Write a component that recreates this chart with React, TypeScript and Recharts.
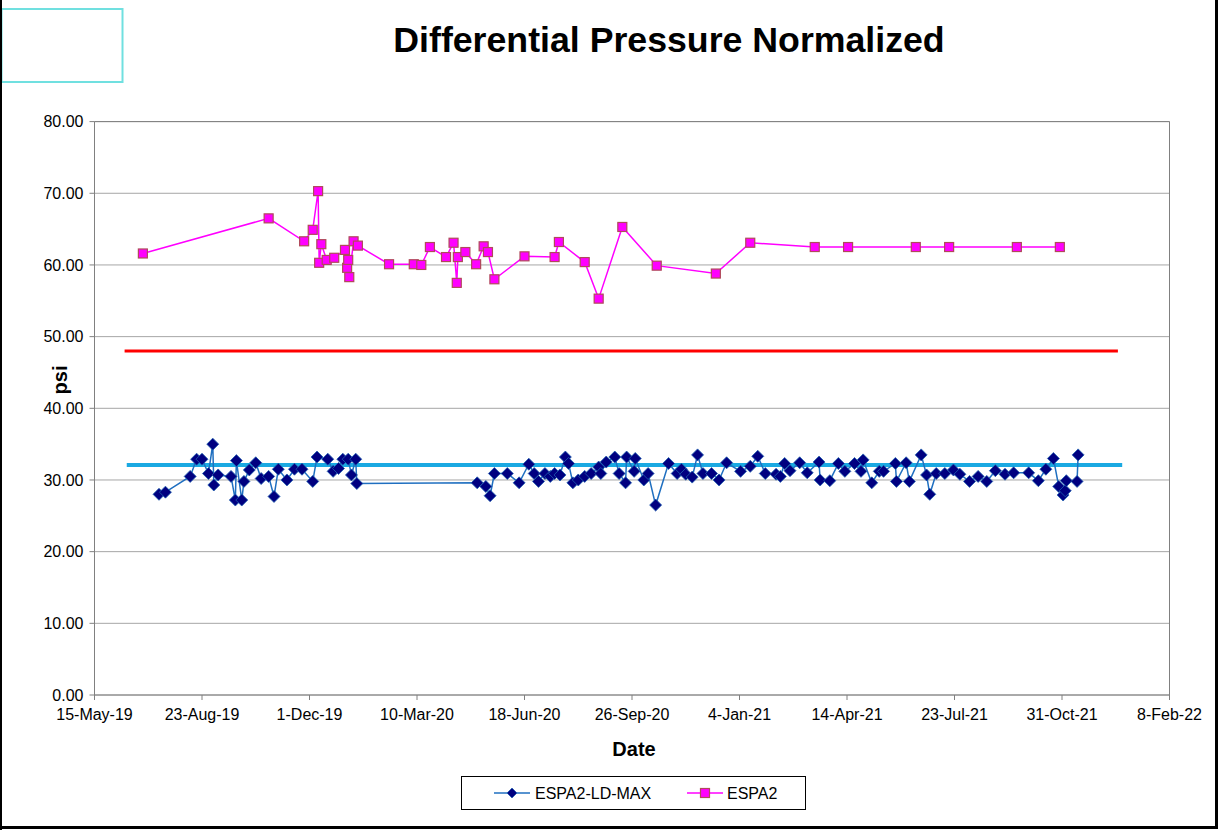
import React from 'react';
import { LineChart, Line, XAxis, YAxis, CartesianGrid, ReferenceLine } from 'recharts';

// ---------- data ----------
const xTickDates = [
  '2019-05-15', '2019-08-23', '2019-12-01', '2020-03-10', '2020-06-18', '2020-09-26',
  '2021-01-04', '2021-04-14', '2021-07-23', '2021-10-31', '2022-02-08',
];
const yTicks = [0, 10, 20, 30, 40, 50, 60, 70, 80];

const espa2Dates = [
  '2019-06-29', '2019-10-24', '2019-11-26', '2019-12-04', '2019-12-09', '2019-12-10',
  '2019-12-12', '2019-12-17', '2019-12-24', '2020-01-03', '2020-01-05', '2020-01-06',
  '2020-01-07', '2020-01-11', '2020-01-15', '2020-02-13', '2020-03-07', '2020-03-14',
  '2020-03-22', '2020-04-06', '2020-04-13', '2020-04-16', '2020-04-17', '2020-04-24',
  '2020-05-04', '2020-05-11', '2020-05-15', '2020-05-21', '2020-06-18', '2020-07-16',
  '2020-07-20', '2020-08-13', '2020-08-26', '2020-09-17', '2020-10-19', '2020-12-13',
  '2021-01-14', '2021-03-15', '2021-04-15', '2021-06-17', '2021-07-18', '2021-09-19',
  '2021-10-29',
];
const espa2Values = [
  61.6, 66.5, 63.3, 64.9, 70.3, 60.3,
  62.9, 60.7, 61.0, 62.1, 59.6, 60.7,
  58.3, 63.3, 62.7, 60.1, 60.1, 60.0,
  62.5, 61.1, 63.1, 57.5, 61.1, 61.8,
  60.1, 62.6, 61.8, 58.0, 61.2, 61.1,
  63.2, 60.4, 55.3, 65.3, 59.9, 58.8,
  63.1, 62.5, 62.5, 62.5, 62.5, 62.5,
  62.5,
];

const ldMaxDates = [
  '2019-07-14', '2019-07-20', '2019-08-12', '2019-08-18', '2019-08-23', '2019-08-29',
  '2019-09-02', '2019-09-03', '2019-09-07', '2019-09-19', '2019-09-23', '2019-09-24',
  '2019-09-29', '2019-10-01', '2019-10-06', '2019-10-12', '2019-10-17', '2019-10-24',
  '2019-10-29', '2019-11-02', '2019-11-10', '2019-11-17', '2019-11-24', '2019-12-04',
  '2019-12-08', '2019-12-18', '2019-12-23', '2019-12-28', '2020-01-01', '2020-01-06',
  '2020-01-09', '2020-01-13', '2020-01-14', '2020-05-05', '2020-05-13', '2020-05-17',
  '2020-05-21', '2020-06-02', '2020-06-13', '2020-06-22', '2020-06-27', '2020-07-01',
  '2020-07-07', '2020-07-12', '2020-07-16', '2020-07-21', '2020-07-26', '2020-07-29',
  '2020-08-02', '2020-08-07', '2020-08-13', '2020-08-19', '2020-08-26', '2020-08-28',
  '2020-09-02', '2020-09-10', '2020-09-14', '2020-09-20', '2020-09-21', '2020-09-28',
  '2020-09-29', '2020-10-07', '2020-10-11', '2020-10-18', '2020-10-30', '2020-11-07',
  '2020-11-11', '2020-11-15', '2020-11-21', '2020-11-26', '2020-12-01', '2020-12-09',
  '2020-12-16', '2020-12-23', '2021-01-05', '2021-01-14', '2021-01-21', '2021-01-28',
  '2021-02-07', '2021-02-11', '2021-02-15', '2021-02-20', '2021-03-01', '2021-03-08',
  '2021-03-19', '2021-03-20', '2021-03-29', '2021-04-06', '2021-04-12', '2021-04-21',
  '2021-04-27', '2021-04-29', '2021-05-07', '2021-05-14', '2021-05-18', '2021-05-29',
  '2021-05-30', '2021-06-08', '2021-06-11', '2021-06-22', '2021-06-27', '2021-06-30',
  '2021-07-06', '2021-07-14', '2021-07-22', '2021-07-28', '2021-08-06', '2021-08-14',
  '2021-08-22', '2021-08-30', '2021-09-08', '2021-09-16', '2021-09-30', '2021-10-09',
  '2021-10-16', '2021-10-23', '2021-10-28', '2021-11-01', '2021-11-03', '2021-11-04',
  '2021-11-14', '2021-11-15',
];
const ldMaxValues = [
  28.0, 28.3, 30.5, 32.9, 32.9, 30.9,
  35.0, 29.3, 30.7, 30.5, 27.2, 32.7,
  27.2, 29.8, 31.4, 32.4, 30.2, 30.5,
  27.7, 31.5, 30.0, 31.5, 31.5, 29.8,
  33.2, 32.9, 31.2, 31.6, 32.9, 32.9,
  30.7, 32.9, 29.5, 29.6, 29.1, 27.8,
  30.9, 30.9, 29.6, 32.2, 30.9, 29.8,
  30.9, 30.5, 30.9, 30.7, 33.2, 32.3,
  29.6, 30.0, 30.5, 30.9, 31.8, 30.9,
  32.5, 33.2, 30.9, 29.6, 33.2, 31.2,
  33.0, 30.0, 30.9, 26.5, 32.3, 30.9,
  31.5, 30.8, 30.4, 33.5, 30.9, 30.9,
  30.0, 32.4, 31.2, 31.9, 33.3, 30.9,
  30.8, 30.5, 32.3, 31.3, 32.4, 31.0,
  32.5, 30.0, 29.9, 32.3, 31.2, 32.3,
  31.2, 32.8, 29.6, 31.2, 31.2, 32.3,
  29.8, 32.4, 29.8, 33.5, 30.7, 28.0,
  30.9, 30.9, 31.4, 30.8, 29.8, 30.5,
  29.8, 31.3, 30.8, 31.0, 31.0, 29.9,
  31.5, 33.0, 29.1, 27.9, 28.5, 29.9,
  29.8, 33.5,
];

const limitDates = ['2019-06-12', '2021-12-22'];
const limitValues = [48, 48];
const averageDates = ['2019-06-14', '2021-12-26'];
const averageValues = [32.1, 32.1];

// ---------- helpers ----------
const DAY = 86400000;
const MONTHS = ['Jan', 'Feb', 'Mar', 'Apr', 'May', 'Jun', 'Jul', 'Aug', 'Sep', 'Oct', 'Nov', 'Dec'];
const toDay = (s: string) => Date.UTC(+s.slice(0, 4), +s.slice(5, 7) - 1, +s.slice(8, 10)) / DAY;
const fmtDate = (v: number) => {
  const d = new Date(v * DAY);
  return `${d.getUTCDate()}-${MONTHS[d.getUTCMonth()]}-${String(d.getUTCFullYear()).slice(2)}`;
};
const build = (dates: string[], values: number[]) => dates.map((d, i) => ({ x: toDay(d), y: values[i] }));

const espa2Data = build(espa2Dates, espa2Values);
const ldMaxData = build(ldMaxDates, ldMaxValues);
const limitData = build(limitDates, limitValues);
const averageData = build(averageDates, averageValues);
const xTicks = xTickDates.map(toDay);
const xMin = xTicks[0];
const xMax = xTicks[xTicks.length - 1];

const FONT = '"Liberation Sans", Arial, sans-serif';
const tickStyle = { fontSize: 16, fill: '#000', fontFamily: FONT };

const Diamond = (p: any) => {
  const { cx, cy } = p;
  if (cx == null || cy == null) return <g key={`dm-${p.index}`} />;
  const r = 6;
  return (
    <path
      key={`dm-${p.index}`}
      d={`M${cx},${cy - r}L${cx + r},${cy}L${cx},${cy + r}L${cx - r},${cy}Z`}
      fill="#000080"
      stroke="#1f5fb0"
      strokeWidth={0.8}
    />
  );
};

const Square = (p: any) => {
  const { cx, cy } = p;
  if (cx == null || cy == null) return <g key={`sq-${p.index}`} />;
  const s = 9;
  return (
    <rect
      key={`sq-${p.index}`}
      x={cx - s / 2}
      y={cy - s / 2}
      width={s}
      height={s}
      fill="#FF00FF"
      stroke="#B04A5A"
      strokeWidth={1.2}
    />
  );
};

export default function App() {
  return (
    <div style={{ position: 'absolute', left: 0, top: 0, width: 1220, height: 830, background: '#fff' }}>
      <LineChart
        width={1220}
        height={830}
        margin={{ top: 121.6, right: 50.5, bottom: 95, left: 14.5 }}
      >
        <CartesianGrid horizontal vertical={false} stroke="#A6A6A6" />
        <XAxis
          type="number"
          dataKey="x"
          domain={[xMin, xMax]}
          ticks={xTicks}
          tickFormatter={fmtDate}
          allowDataOverflow
          height={40}
          tick={tickStyle}
          tickSize={5}
          tickMargin={9}
          stroke="#808080"
          tickLine={{ stroke: '#808080' }}
          interval={0}
        />
        <YAxis
          type="number"
          domain={[0, 80]}
          ticks={yTicks}
          tickFormatter={(v: number) => v.toFixed(2)}
          width={80}
          tick={tickStyle}
          tickSize={5}
          tickMargin={6}
          stroke="#808080"
          tickLine={{ stroke: '#808080' }}
          interval={0}
        />
        <ReferenceLine y={80} stroke="#808080" />
        <ReferenceLine x={xMax} stroke="#808080" />
        <Line
          data={limitData}
          dataKey="y"
          type="linear"
          stroke="#FF0000"
          strokeWidth={3}
          dot={false}
          activeDot={false}
          legendType="none"
          isAnimationActive={false}
        />
        <Line
          data={averageData}
          dataKey="y"
          type="linear"
          stroke="#1AA9E2"
          strokeWidth={4}
          dot={false}
          activeDot={false}
          legendType="none"
          isAnimationActive={false}
        />
        <Line
          name="ESPA2-LD-MAX"
          data={ldMaxData}
          dataKey="y"
          type="linear"
          stroke="#1F6FC0"
          strokeWidth={1.5}
          dot={Diamond}
          activeDot={false}
          isAnimationActive={false}
        />
        <Line
          name="ESPA2"
          data={espa2Data}
          dataKey="y"
          type="linear"
          stroke="#FF00FF"
          strokeWidth={1.5}
          dot={Square}
          activeDot={false}
          isAnimationActive={false}
        />
      </LineChart>

      <svg
        width={1220}
        height={830}
        style={{ position: 'absolute', left: 0, top: 0, pointerEvents: 'none' }}
      >
        <text x={669} y={52} textAnchor="middle" fontFamily={FONT} fontWeight="bold" fontSize={35.7} fill="#000">
          Differential Pressure Normalized
        </text>
        <text x={634} y={756} textAnchor="middle" fontFamily={FONT} fontWeight="bold" fontSize={20} fill="#000">
          Date
        </text>
        <text
          x={67}
          y={380}
          textAnchor="middle"
          fontFamily={FONT}
          fontWeight="bold"
          fontSize={20}
          fill="#000"
          transform="rotate(-90 67 380)"
        >
          psi
        </text>
        {/* small box top-left */}
        <rect x={1.5} y={9} width={121} height={73} fill="none" stroke="#70E0E0" strokeWidth={2} />
        {/* outer frame */}
        <rect x={0} y={0} width={2} height={830} fill="#000" />
        <rect x={0} y={826} width={1218} height={3} fill="#000" />
        <rect x={1215} y={0} width={3} height={829} fill="#000" />

        {/* legend */}
        <rect x={461.5} y={776.5} width={344} height={33} fill="#fff" stroke="#000" strokeWidth={1} />
        <line x1={494} y1={793} x2={530} y2={793} stroke="#1F6FC0" strokeWidth={1.5} />
        <path d="M512,788L517,793L512,798L507,793Z" fill="#000080" stroke="#1f5fb0" strokeWidth={0.8} />
        <text x={535} y={799} fontFamily={FONT} fontSize={16} fill="#000">ESPA2-LD-MAX</text>
        <line x1={687} y1={793} x2={723} y2={793} stroke="#FF00FF" strokeWidth={1.5} />
        <rect x={700.5} y={788.5} width={9} height={9} fill="#FF00FF" stroke="#B04A5A" strokeWidth={1.2} />
        <text x={727} y={799} fontFamily={FONT} fontSize={16} fill="#000">ESPA2</text>
      </svg>
    </div>
  );
}
